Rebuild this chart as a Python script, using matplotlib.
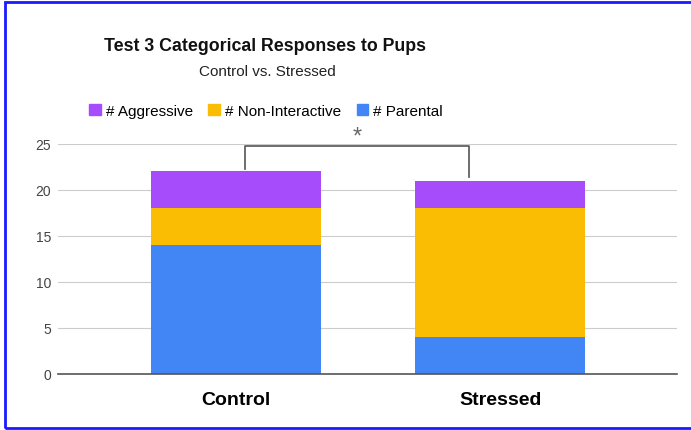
import matplotlib.pyplot as plt
from matplotlib.patches import Rectangle, Patch

categories = ["Control", "Stressed"]
parental = [14, 4]
non_interactive = [4, 14]
aggressive = [4, 3]
series_names = ["# Aggressive", "# Non-Interactive", "# Parental"]

c_par = "#4285f4"
c_non = "#fbbc04"
c_agg = "#a64cfa"

plt.rcParams['font.family'] = ['Liberation Sans', 'DejaVu Sans']

fig = plt.figure(figsize=(6.91, 4.31), dpi=100)
ax = fig.add_axes([0.084, 0.130, 0.896, 0.534])

x = list(range(len(categories)))
w = 0.644
bottom2 = [p + n for p, n in zip(parental, non_interactive)]
ax.bar(x, parental, w, color=c_par, zorder=3)
ax.bar(x, non_interactive, w, bottom=parental, color=c_non, zorder=3)
ax.bar(x, aggressive, w, bottom=bottom2, color=c_agg, zorder=3)

ax.set_xlim(-0.674, 1.670)
ax.set_ylim(0, 25)
ax.set_yticks([0, 5, 10, 15, 20, 25])
ax.yaxis.grid(True, color="#cccccc", linewidth=0.8, zorder=0)
for s in ["top", "right", "left"]:
    ax.spines[s].set_visible(False)
ax.spines["bottom"].set_color("#555555")
ax.spines["bottom"].set_linewidth(1.2)
ax.spines["bottom"].set_zorder(4)
ax.tick_params(axis="y", length=0, labelsize=10, labelcolor="#444444", pad=5)
ax.tick_params(axis="x", length=0, pad=12)
ax.set_xticks(x)
ax.set_xticklabels(categories, fontsize=14, fontweight="bold")

# significance bracket
ax.plot([0.034, 0.034, 0.88, 0.88], [22.3, 24.8, 24.8, 21.4],
        color="#555555", linewidth=1.2, clip_on=False, zorder=5)
ax.text(0.458, 25.8, "*", ha="center", va="center", fontsize=17,
        color="#666666", clip_on=False)

fig.text(0.384, 0.893, "Test 3 Categorical Responses to Pups", ha="center",
         va="center", fontsize=12.8, fontweight="bold", color="#111111")
fig.text(0.387, 0.833, "Control vs. Stressed", ha="center", va="center",
         fontsize=11, color="#222222")

handles = [Patch(color=c_agg), Patch(color=c_non), Patch(color=c_par)]
fig.legend(handles, series_names, loc="center", bbox_to_anchor=(0.385, 0.74),
           ncol=3, frameon=False, fontsize=11, handlelength=0.75,
           handleheight=0.75, handletextpad=0.35, columnspacing=1.0)

fig.patches.append(Rectangle((5 / 691, 0.004), 1.1, 0.99, transform=fig.transFigure,
                             fill=False, edgecolor="#1a1aff", linewidth=2))

fig.savefig("out.png", dpi=100)
